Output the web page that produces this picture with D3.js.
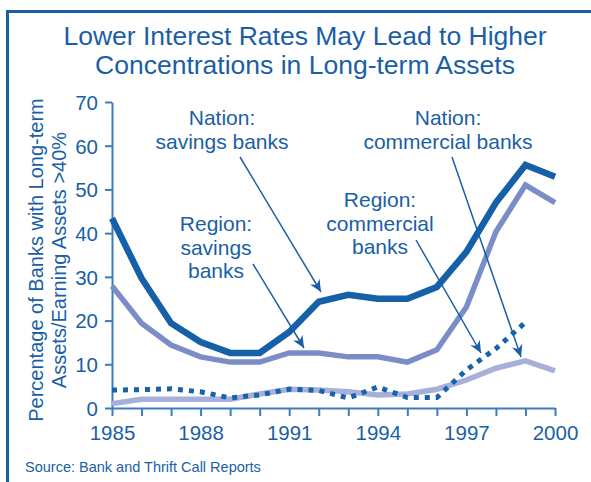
<!DOCTYPE html>
<html>
<head>
<meta charset="utf-8">
<script src="https://cdn.jsdelivr.net/npm/d3@7"></script>
<style>
  html, body { margin: 0; padding: 0; background: #fff; }
  svg { display: block; }
  text { font-family: "Liberation Sans", Arial, Helvetica, sans-serif; fill: #1a5fa6; }
</style>
</head>
<body>
<svg id="chart" width="591" height="482"></svg>
<script>
// Years on the x axis
const years = [1985, 1986, 1987, 1988, 1989, 1990, 1991, 1992, 1993, 1994, 1995, 1996, 1997, 1998, 1999, 2000];

// Percentage of banks with long-term assets / earning assets > 40%
const nationSavings    = [43.4, 29.7, 19.4, 15.1, 12.6, 12.6, 17.4, 24.3, 25.9, 25.0, 25.0, 27.7, 35.7, 47.0, 55.6, 52.9];
const regionSavings    = [27.9, 19.4, 14.4, 11.7, 10.5, 10.5, 12.6, 12.6, 11.7, 11.7, 10.5, 13.3, 23.1, 40.3, 51.0, 47.0];
const nationCommercial = [1.0, 2.0, 2.0, 2.0, 2.0, 3.2, 4.3, 4.1, 3.7, 3.0, 3.2, 4.3, 6.4, 9.1, 10.8, 8.5];
const regionCommercial = [4.1, 4.2, 4.4, 3.7, 2.3, 3.0, 4.3, 4.0, 2.3, 4.8, 2.4, 2.4, 8.7, 13.6, 19.6, null];

const yTicks = [0, 10, 20, 30, 40, 50, 60, 70];
const xTickLabels = [1985, 1988, 1991, 1994, 1997, 2000];

const titleLines = ["Lower Interest Rates May Lead to Higher", "Concentrations in Long-term Assets"];
const yLabelLines = ["Percentage of Banks with Long-term", "Assets/Earning Assets >40%"];
const sourceText = "Source: Bank and Thrift Call Reports";

const dark = "#1a5fa6";
const axisColor = "#3d7bbf";

const svg = d3.select("#chart");

// Frame around the figure (runs off the right and bottom edges)
svg.append("rect")
  .attr("x", 7.5).attr("y", 11.5)
  .attr("width", 620).attr("height", 520)
  .attr("fill", "none").attr("stroke", dark).attr("stroke-width", 3);

// Title
svg.append("g").selectAll("text").data(titleLines).join("text")
  .attr("x", 305).attr("y", (d, i) => 45 + i * 28.5)
  .attr("text-anchor", "middle")
  .attr("font-size", 26.5)
  .text(d => d);

const x = d3.scaleLinear().domain([1985, 2000]).range([112, 555]);
const y = d3.scaleLinear().domain([0, 70]).range([408, 102]);

// Y axis
const yAxis = svg.append("g").attr("transform", `translate(${x(1985)},0)`)
  .call(d3.axisLeft(y).tickValues(yTicks).tickSize(7).tickPadding(7).tickSizeOuter(0));
// X axis: a tick every year, labels every three years
const xAxis = svg.append("g").attr("transform", `translate(0,${y(0)})`)
  .call(d3.axisBottom(x).tickValues(years).tickSize(8).tickPadding(5).tickSizeOuter(0)
    .tickFormat(d => xTickLabels.includes(d) ? String(d) : ""));

[yAxis, xAxis].forEach(g => {
  g.select(".domain").attr("stroke", axisColor).attr("stroke-width", 2);
  g.selectAll(".tick line").attr("stroke", axisColor).attr("stroke-width", 2);
  g.selectAll(".tick text")
    .attr("fill", dark)
    .attr("font-size", 20.5)
    .attr("font-family", '"Liberation Sans", Arial, sans-serif');
});
yAxis.selectAll(".tick text").attr("dy", "0.36em");
xAxis.selectAll(".tick text").attr("dy", "0.92em");

// Y axis title, two rotated lines
svg.append("g").attr("transform", "translate(43,260) rotate(-90)")
  .selectAll("text").data(yLabelLines).join("text")
  .attr("x", 0).attr("y", (d, i) => i * 23)
  .attr("text-anchor", "middle")
  .attr("font-size", 20)
  .text(d => d);

// Series lines
const line = d3.line()
  .defined(d => d != null)
  .x((d, i) => x(years[i]))
  .y(d => y(d));

const series = [
  { values: nationCommercial, color: "#a7b0da", width: 5.5, dash: null },
  { values: regionSavings,    color: "#7b8dc6", width: 5.5, dash: null },
  { values: nationSavings,    color: "#1560a8", width: 6.5, dash: null },
  { values: regionCommercial, color: "#1763aa", width: 5,   dash: "5,6" }
];

svg.append("g").selectAll("path").data(series).join("path")
  .attr("d", d => line(d.values))
  .attr("fill", "none")
  .attr("stroke", d => d.color)
  .attr("stroke-width", d => d.width)
  .attr("stroke-dasharray", d => d.dash)
  .attr("stroke-linejoin", "miter");

// Arrowhead marker
svg.append("defs").append("marker")
  .attr("id", "arrowhead")
  .attr("viewBox", "-12 -6 14 12")
  .attr("refX", 0).attr("refY", 0)
  .attr("markerWidth", 14).attr("markerHeight", 12)
  .attr("markerUnits", "userSpaceOnUse")
  .attr("orient", "auto")
  .append("path")
  .attr("d", "M0,0 L-12,-5.5 L-8.5,0 L-12,5.5 Z")
  .attr("fill", dark);

// Annotations: label lines and the arrows pointing to each series
const annotations = [
  { lines: ["Nation:", "savings banks"], cx: 222, top: 125, from: [240, 157], to: [321, 292] },
  { lines: ["Region:", "savings", "banks"], cx: 216, top: 231, from: [253, 264], to: [304, 348] },
  { lines: ["Nation:", "commercial banks"], cx: 448, top: 125, from: [452, 157], to: [521, 357] },
  { lines: ["Region:", "commercial", "banks"], cx: 380, top: 207, from: [416, 240], to: [481, 353] }
];

const ann = svg.append("g").selectAll("g").data(annotations).join("g");
ann.selectAll("text").data(d => d.lines.map((t, i) => ({ t, i, d }))).join("text")
  .attr("x", e => e.d.cx)
  .attr("y", e => e.d.top + e.i * 23.5)
  .attr("text-anchor", "middle")
  .attr("font-size", 21)
  .text(e => e.t);
ann.append("line")
  .attr("x1", d => d.from[0]).attr("y1", d => d.from[1])
  .attr("x2", d => d.to[0]).attr("y2", d => d.to[1])
  .attr("stroke", dark).attr("stroke-width", 1.5)
  .attr("marker-end", "url(#arrowhead)");

// Source note
svg.append("text")
  .attr("x", 25).attr("y", 472)
  .attr("font-size", 14.5)
  .text(sourceText);
</script>
</body>
</html>
